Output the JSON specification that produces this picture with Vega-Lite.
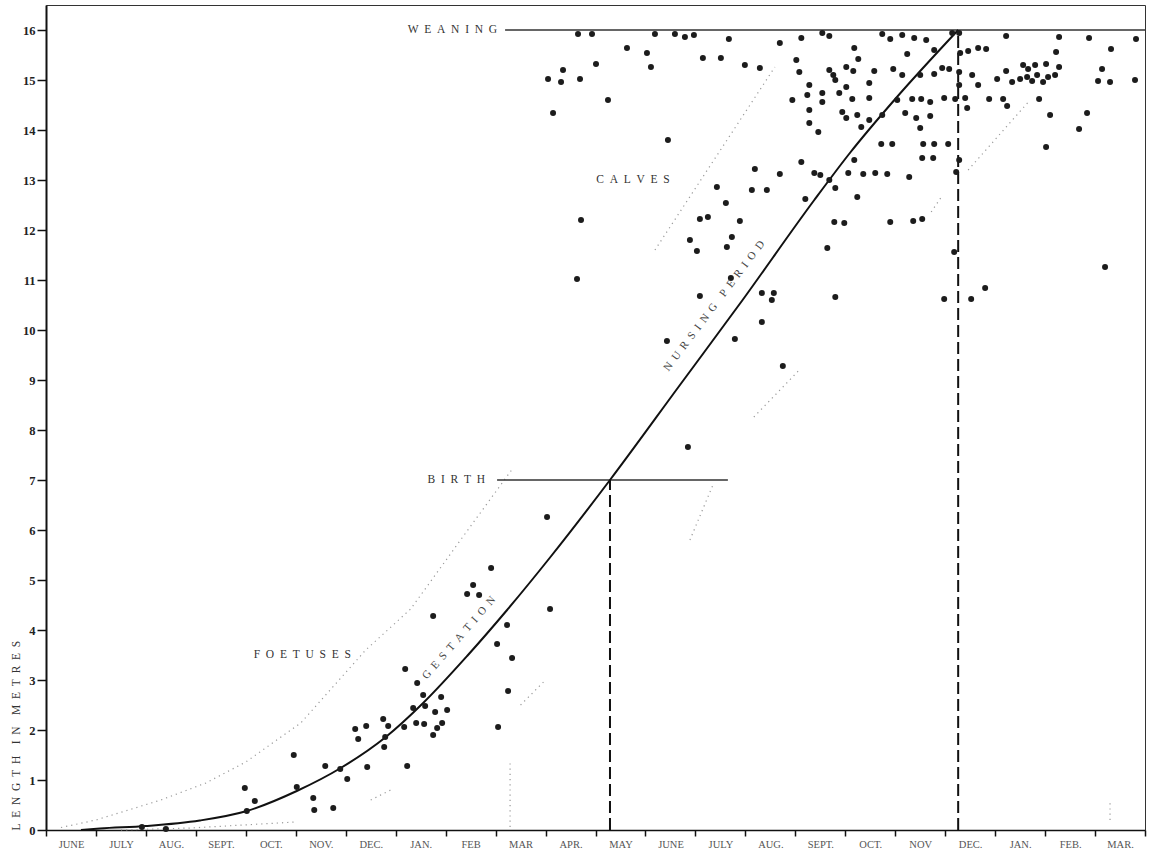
{
  "$schema": "https://vega.github.io/schema/vega-lite/v6.json",
  "width": 1099,
  "height": 825,
  "autosize": {"type": "none"},
  "padding": {"left": 46, "top": 5, "right": 8, "bottom": 28},
  "background": "white",
  "config": {
    "view": {"stroke": "#333", "strokeWidth": 1},
    "font": "Liberation Serif"
  },
  "datasets": {
    "curve": [
      {"m": 0.7, "l": 0.0}, {"m": 1.08, "l": 0.03}, {"m": 2.0, "l": 0.08}, {"m": 3.08, "l": 0.19},
      {"m": 4.02, "l": 0.38}, {"m": 5.02, "l": 0.78}, {"m": 5.9, "l": 1.24}, {"m": 6.79, "l": 1.85},
      {"m": 7.55, "l": 2.54}, {"m": 8.43, "l": 3.48}, {"m": 9.23, "l": 4.4}, {"m": 10.09, "l": 5.45},
      {"m": 11.29, "l": 7.0}, {"m": 12.69, "l": 8.9}, {"m": 13.93, "l": 10.58}, {"m": 15.38, "l": 12.6},
      {"m": 16.1, "l": 13.55}, {"m": 17.0, "l": 14.62}, {"m": 18.26, "l": 16.0}
    ],
    "env": [
      {"seg": "A", "m": 0.3, "l": 0.05}, {"seg": "A", "m": 1.0, "l": 0.2}, {"seg": "A", "m": 2.3, "l": 0.6},
      {"seg": "A", "m": 3.2, "l": 0.94}, {"seg": "A", "m": 4.0, "l": 1.36}, {"seg": "A", "m": 5.1, "l": 2.14},
      {"seg": "A", "m": 6.4, "l": 3.6}, {"seg": "A", "m": 7.3, "l": 4.42}, {"seg": "A", "m": 8.4, "l": 5.94},
      {"seg": "A", "m": 9.35, "l": 7.24},
      {"seg": "B", "m": 1.5, "l": 0.0}, {"seg": "B", "m": 2.9, "l": 0.04}, {"seg": "B", "m": 5.0, "l": 0.16},
      {"seg": "B2", "m": 6.5, "l": 0.6}, {"seg": "B2", "m": 6.9, "l": 0.8},
      {"seg": "B3", "m": 9.5, "l": 2.5}, {"seg": "B3", "m": 10.0, "l": 3.0},
      {"seg": "C", "m": 12.89, "l": 5.8}, {"seg": "C", "m": 13.35, "l": 6.9},
      {"seg": "D", "m": 14.17, "l": 8.26}, {"seg": "D", "m": 15.08, "l": 9.2},
      {"seg": "E", "m": 17.72, "l": 12.36}, {"seg": "E", "m": 17.95, "l": 12.7},
      {"seg": "F", "m": 18.46, "l": 13.2}, {"seg": "F", "m": 19.7, "l": 14.6},
      {"seg": "H", "m": 12.19, "l": 11.6}, {"seg": "H", "m": 14.59, "l": 15.26},
      {"seg": "V1", "m": 9.29, "l": 0.06}, {"seg": "V1", "m": 9.29, "l": 1.4},
      {"seg": "V2", "m": 21.3, "l": 0.2}, {"seg": "V2", "m": 21.3, "l": 0.6}
    ],
    "hlines": [
      {"name": "weaning", "m": 9.19, "m2": 22.0, "l": 16.0},
      {"name": "birth", "m": 9.03, "m2": 13.65, "l": 7.0}
    ],
    "vlines": [
      {"name": "birth", "m": 11.29, "l": 0, "l2": 7.0},
      {"name": "weaning", "m": 18.26, "l": 0, "l2": 16.0}
    ],
    "pts": [
      {"m": 1.92, "l": 0.06}, {"m": 2.40, "l": 0.02}, {"m": 3.98, "l": 0.84}, {"m": 4.18, "l": 0.58},
      {"m": 4.02, "l": 0.38}, {"m": 4.96, "l": 1.50}, {"m": 5.02, "l": 0.86}, {"m": 5.35, "l": 0.64},
      {"m": 5.37, "l": 0.40}, {"m": 5.75, "l": 0.44}, {"m": 5.59, "l": 1.28}, {"m": 5.89, "l": 1.22},
      {"m": 6.03, "l": 1.02}, {"m": 6.19, "l": 2.02}, {"m": 6.25, "l": 1.82}, {"m": 6.41, "l": 2.08},
      {"m": 6.43, "l": 1.26}, {"m": 6.75, "l": 2.22}, {"m": 6.85, "l": 2.08}, {"m": 6.79, "l": 1.86},
      {"m": 6.77, "l": 1.66}, {"m": 7.17, "l": 2.06}, {"m": 7.19, "l": 3.22}, {"m": 7.23, "l": 1.28},
      {"m": 7.35, "l": 2.44}, {"m": 7.43, "l": 2.94}, {"m": 7.55, "l": 2.70}, {"m": 7.59, "l": 2.48},
      {"m": 7.41, "l": 2.14}, {"m": 7.57, "l": 2.12}, {"m": 7.75, "l": 4.28}, {"m": 7.79, "l": 2.36},
      {"m": 7.75, "l": 1.90}, {"m": 7.83, "l": 2.04}, {"m": 7.91, "l": 2.66}, {"m": 7.93, "l": 2.14},
      {"m": 8.03, "l": 2.40}, {"m": 8.43, "l": 4.72}, {"m": 8.55, "l": 4.90}, {"m": 8.67, "l": 4.70},
      {"m": 8.91, "l": 5.24}, {"m": 9.03, "l": 3.72}, {"m": 9.23, "l": 4.10}, {"m": 9.33, "l": 3.44},
      {"m": 9.25, "l": 2.78}, {"m": 9.05, "l": 2.06}, {"m": 10.03, "l": 6.26}, {"m": 10.09, "l": 4.42},
      {"m": 10.65, "l": 15.92}, {"m": 10.93, "l": 15.92}, {"m": 12.19, "l": 15.92}, {"m": 12.59, "l": 15.92},
      {"m": 12.79, "l": 15.86}, {"m": 12.97, "l": 15.90}, {"m": 13.67, "l": 15.82}, {"m": 14.69, "l": 15.74},
      {"m": 15.12, "l": 15.84}, {"m": 15.54, "l": 15.94}, {"m": 15.68, "l": 15.88}, {"m": 11.63, "l": 15.64},
      {"m": 12.03, "l": 15.54}, {"m": 11.01, "l": 15.32}, {"m": 12.11, "l": 15.26}, {"m": 13.15, "l": 15.44},
      {"m": 13.51, "l": 15.44}, {"m": 13.99, "l": 15.30}, {"m": 14.29, "l": 15.24}, {"m": 10.05, "l": 15.02},
      {"m": 10.35, "l": 15.20}, {"m": 10.31, "l": 14.96}, {"m": 10.69, "l": 15.02}, {"m": 11.25, "l": 14.60},
      {"m": 10.15, "l": 14.34}, {"m": 12.45, "l": 13.80}, {"m": 15.02, "l": 15.40}, {"m": 15.08, "l": 15.16},
      {"m": 16.18, "l": 15.64}, {"m": 16.26, "l": 15.42}, {"m": 16.74, "l": 15.92}, {"m": 16.90, "l": 15.82},
      {"m": 15.68, "l": 15.20}, {"m": 15.76, "l": 15.10}, {"m": 15.80, "l": 15.00}, {"m": 16.02, "l": 15.26},
      {"m": 16.16, "l": 15.18}, {"m": 16.58, "l": 15.18}, {"m": 16.96, "l": 15.22}, {"m": 15.28, "l": 14.90},
      {"m": 15.54, "l": 14.74}, {"m": 16.02, "l": 14.86}, {"m": 16.48, "l": 14.94}, {"m": 15.24, "l": 14.70},
      {"m": 15.54, "l": 14.56}, {"m": 15.88, "l": 14.74}, {"m": 16.14, "l": 14.62}, {"m": 16.48, "l": 14.64},
      {"m": 17.04, "l": 14.60}, {"m": 14.94, "l": 14.60}, {"m": 15.28, "l": 14.40}, {"m": 15.28, "l": 14.14},
      {"m": 15.46, "l": 13.96}, {"m": 15.94, "l": 14.36}, {"m": 16.02, "l": 14.24}, {"m": 16.24, "l": 14.30},
      {"m": 16.32, "l": 14.06}, {"m": 16.48, "l": 14.20}, {"m": 16.74, "l": 14.30}, {"m": 16.72, "l": 13.72},
      {"m": 16.94, "l": 13.72}, {"m": 14.19, "l": 13.22}, {"m": 14.69, "l": 13.12}, {"m": 15.12, "l": 13.36},
      {"m": 15.38, "l": 13.14}, {"m": 15.50, "l": 13.10}, {"m": 15.68, "l": 13.00}, {"m": 16.06, "l": 13.14},
      {"m": 16.18, "l": 13.40}, {"m": 16.36, "l": 13.12}, {"m": 16.60, "l": 13.14}, {"m": 16.84, "l": 13.12},
      {"m": 13.43, "l": 12.86}, {"m": 14.13, "l": 12.80}, {"m": 14.43, "l": 12.80}, {"m": 15.20, "l": 12.62},
      {"m": 15.80, "l": 12.84}, {"m": 16.24, "l": 12.66},
      {"m": 13.61, "l": 12.54}, {"m": 10.71, "l": 12.20}, {"m": 13.09, "l": 12.22}, {"m": 13.25, "l": 12.26},
      {"m": 13.89, "l": 12.18}, {"m": 15.78, "l": 12.16}, {"m": 15.98, "l": 12.14}, {"m": 16.90, "l": 12.16},
      {"m": 17.36, "l": 12.18}, {"m": 17.54, "l": 12.22}, {"m": 12.89, "l": 11.80}, {"m": 13.03, "l": 11.58},
      {"m": 13.73, "l": 11.86}, {"m": 13.63, "l": 11.66}, {"m": 15.64, "l": 11.64}, {"m": 18.18, "l": 11.56},
      {"m": 10.63, "l": 11.02}, {"m": 13.71, "l": 11.04}, {"m": 13.09, "l": 10.68}, {"m": 14.33, "l": 10.74},
      {"m": 14.57, "l": 10.74}, {"m": 14.53, "l": 10.60}, {"m": 15.80, "l": 10.66}, {"m": 17.98, "l": 10.62},
      {"m": 18.52, "l": 10.62}, {"m": 18.80, "l": 10.84}, {"m": 21.20, "l": 11.26}, {"m": 14.33, "l": 10.16},
      {"m": 12.43, "l": 9.78}, {"m": 13.79, "l": 9.82}, {"m": 14.75, "l": 9.28}, {"m": 12.85, "l": 7.66},
      {"m": 17.14, "l": 15.90}, {"m": 17.38, "l": 15.84}, {"m": 17.62, "l": 15.80}, {"m": 17.24, "l": 15.52},
      {"m": 17.78, "l": 15.60}, {"m": 18.14, "l": 15.94}, {"m": 18.28, "l": 15.94}, {"m": 17.94, "l": 15.24},
      {"m": 18.08, "l": 15.22}, {"m": 17.78, "l": 15.12}, {"m": 17.50, "l": 15.10}, {"m": 17.14, "l": 15.10},
      {"m": 18.30, "l": 15.54}, {"m": 18.46, "l": 15.58}, {"m": 18.66, "l": 15.64}, {"m": 18.82, "l": 15.62},
      {"m": 18.28, "l": 15.16}, {"m": 18.54, "l": 15.10}, {"m": 18.28, "l": 14.90}, {"m": 18.66, "l": 14.90},
      {"m": 19.04, "l": 15.02}, {"m": 19.22, "l": 15.18}, {"m": 19.34, "l": 14.96}, {"m": 19.56, "l": 15.30},
      {"m": 19.66, "l": 15.22}, {"m": 19.80, "l": 15.30}, {"m": 20.02, "l": 15.32}, {"m": 20.28, "l": 15.26},
      {"m": 19.50, "l": 15.02}, {"m": 19.64, "l": 15.06}, {"m": 19.74, "l": 14.98}, {"m": 19.84, "l": 15.10},
      {"m": 19.96, "l": 14.96}, {"m": 20.06, "l": 15.06}, {"m": 20.20, "l": 15.10}, {"m": 20.22, "l": 15.56},
      {"m": 20.28, "l": 15.86}, {"m": 19.22, "l": 15.88}, {"m": 20.88, "l": 15.84}, {"m": 21.32, "l": 15.62},
      {"m": 21.14, "l": 15.22}, {"m": 21.06, "l": 14.98}, {"m": 21.30, "l": 14.96}, {"m": 21.82, "l": 15.82},
      {"m": 21.80, "l": 15.00}, {"m": 17.34, "l": 14.62}, {"m": 17.52, "l": 14.62}, {"m": 17.70, "l": 14.56},
      {"m": 17.98, "l": 14.64}, {"m": 18.20, "l": 14.62}, {"m": 18.40, "l": 14.64}, {"m": 18.44, "l": 14.44},
      {"m": 18.88, "l": 14.62}, {"m": 19.16, "l": 14.62}, {"m": 19.24, "l": 14.48}, {"m": 19.88, "l": 14.62},
      {"m": 17.20, "l": 14.34}, {"m": 17.42, "l": 14.24}, {"m": 17.70, "l": 14.28}, {"m": 17.50, "l": 14.04},
      {"m": 20.10, "l": 14.30}, {"m": 20.84, "l": 14.34}, {"m": 20.68, "l": 14.02}, {"m": 17.56, "l": 13.72},
      {"m": 17.78, "l": 13.72}, {"m": 18.06, "l": 13.72}, {"m": 17.54, "l": 13.44}, {"m": 17.76, "l": 13.44},
      {"m": 18.28, "l": 13.40}, {"m": 18.22, "l": 13.16}, {"m": 17.28, "l": 13.06}, {"m": 20.02, "l": 13.66}
    ],
    "labels": [
      {"t": "F\u2002O\u2002E\u2002T\u2002U\u2002S\u2002E\u2002S", "m": 5.13, "l": 3.5},
      {"t": "C\u2002A\u2002L\u2002V\u2002E\u2002S", "m": 11.75, "l": 13.0}
    ],
    "rlabels": [
      {"t": "W\u2002E\u2002A\u2002N\u2002I\u2002N\u2002G", "m": 9.03, "l": 16.0},
      {"t": "B\u2002I\u2002R\u2002T\u2002H", "m": 8.79, "l": 7.0}
    ],
    "gest": [{"t": "G\u2002E\u2002S\u2002T\u2002A\u2002T\u2002I\u2002O\u2002N", "m": 8.27, "l": 3.84}],
    "nurs": [{"t": "N\u2002U\u2002R\u2002S\u2002I\u2002N\u2002G\u2003P\u2002E\u2002R\u2002I\u2002O\u2002D", "m": 13.38, "l": 10.48}]
  },
  "layer": [
    {
      "data": {"name": "env"},
      "mark": {"type": "line", "color": "#999", "strokeWidth": 1.2, "strokeDash": [1.2, 4]},
      "encoding": {
        "x": {
          "field": "m", "type": "quantitative",
          "scale": {"domain": [0, 22], "nice": false, "zero": false},
          "axis": {
            "values": [0,1,2,3,4,5,6,7,8,9,10,11,12,13,14,15,16,17,18,19,20,21,22],
            "labelExpr": "['JUNE','JULY','AUG.','SEPT.','OCT.','NOV.','DEC.','JAN.','FEB','MAR','APR.','MAY','JUNE','JULY','AUG.','SEPT.','OCT.','NOV','DEC.','JAN.','FEB.','MAR.',''][datum.value]",
            "labelAlign": "center", "labelOffset": 25, "labelFontSize": 10.5, "labelColor": "#555",
            "labelFont": "Liberation Serif", "labelPadding": 3, "labelFlush": false, "labelOverlap": false,
            "labelBound": false,
            "tickSize": 6, "tickWidth": 1.5, "tickColor": "#111",
            "domainColor": "#111", "domainWidth": 1.5, "grid": false, "title": null
          }
        },
        "y": {
          "field": "l", "type": "quantitative",
          "scale": {"domain": [0, 16.5], "nice": false},
          "axis": {
            "values": [0,1,2,3,4,5,6,7,8,9,10,11,12,13,14,15,16],
            "tickSize": 9, "tickWidth": 1.5, "tickColor": "#111",
            "domainColor": "#111", "domainWidth": 2,
            "labelFont": "Liberation Serif", "labelFontWeight": "bold", "labelFontSize": 12.5,
            "labelColor": "#222", "labelPadding": 2, "labelFlush": false, "grid": false,
            "title": "L\u2002E\u2002N\u2002G\u2002T\u2002H\u2003I\u2002N\u2003M\u2002E\u2002T\u2002R\u2002E\u2002S",
            "titleFont": "Liberation Serif", "titleFontWeight": "normal", "titleFontSize": 11.5,
            "titleColor": "#333", "titleAnchor": "start", "titlePadding": 1
          }
        },
        "detail": {"field": "seg", "type": "nominal"}
      }
    },
    {
      "data": {"name": "hlines"},
      "mark": {"type": "rule", "color": "#333", "strokeWidth": 1.3},
      "encoding": {
        "x": {"field": "m", "type": "quantitative"},
        "x2": {"field": "m2"},
        "y": {"field": "l", "type": "quantitative"}
      }
    },
    {
      "data": {"name": "vlines"},
      "mark": {"type": "rule", "color": "#111", "strokeWidth": 2, "strokeDash": [12, 5]},
      "encoding": {
        "x": {"field": "m", "type": "quantitative"},
        "y": {"field": "l", "type": "quantitative"},
        "y2": {"field": "l2"}
      }
    },
    {
      "data": {"name": "curve"},
      "mark": {"type": "line", "color": "#111", "strokeWidth": 2, "interpolate": "monotone"},
      "encoding": {
        "x": {"field": "m", "type": "quantitative"},
        "y": {"field": "l", "type": "quantitative"}
      }
    },
    {
      "data": {"name": "pts"},
      "mark": {"type": "circle", "color": "#1c1c1c", "size": 36, "opacity": 1},
      "encoding": {
        "x": {"field": "m", "type": "quantitative"},
        "y": {"field": "l", "type": "quantitative"}
      }
    },
    {
      "data": {"name": "labels"},
      "mark": {"type": "text", "font": "Liberation Serif", "fontSize": 11.5, "color": "#333", "align": "center", "baseline": "middle"},
      "encoding": {
        "x": {"field": "m", "type": "quantitative"},
        "y": {"field": "l", "type": "quantitative"},
        "text": {"field": "t"}
      }
    },
    {
      "data": {"name": "rlabels"},
      "mark": {"type": "text", "font": "Liberation Serif", "fontSize": 11.5, "color": "#333", "align": "right", "baseline": "middle"},
      "encoding": {
        "x": {"field": "m", "type": "quantitative"},
        "y": {"field": "l", "type": "quantitative"},
        "text": {"field": "t"}
      }
    },
    {
      "data": {"name": "gest"},
      "mark": {"type": "text", "font": "Liberation Serif", "fontSize": 11, "color": "#444", "align": "center", "baseline": "middle", "angle": -49},
      "encoding": {
        "x": {"field": "m", "type": "quantitative"},
        "y": {"field": "l", "type": "quantitative"},
        "text": {"field": "t"}
      }
    },
    {
      "data": {"name": "nurs"},
      "mark": {"type": "text", "font": "Liberation Serif", "fontSize": 11, "color": "#444", "align": "center", "baseline": "middle", "angle": -53},
      "encoding": {
        "x": {"field": "m", "type": "quantitative"},
        "y": {"field": "l", "type": "quantitative"},
        "text": {"field": "t"}
      }
    }
  ]
}
